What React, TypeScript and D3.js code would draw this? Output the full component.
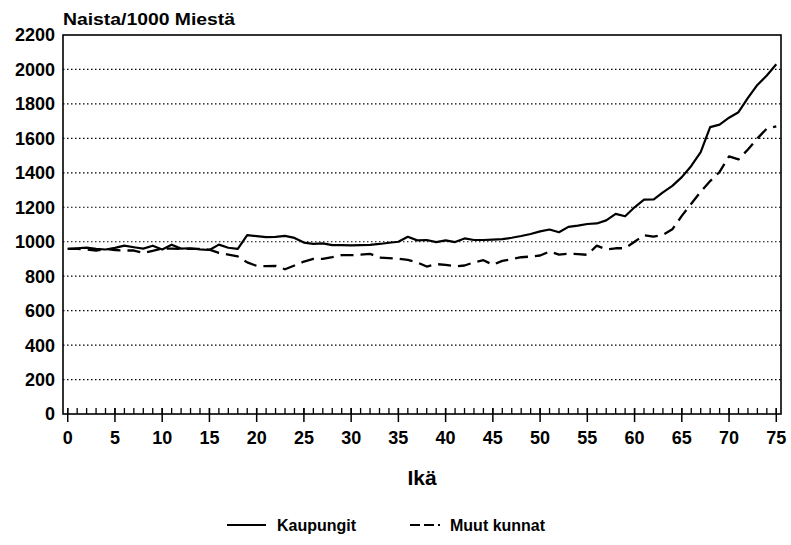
import React from "react";
import * as d3 from "d3";

const ages: number[] = d3.range(0, 76);

const kaupungit: number[] = [
  958, 962, 966, 958, 955, 964, 977, 968, 960, 977,
  955, 983, 960, 962, 956, 952, 983, 965, 958, 1038,
  1032, 1027, 1028, 1034, 1022, 995, 988, 990, 980, 980,
  979, 980, 982, 987, 994, 1000, 1029, 1008, 1010, 998,
  1008, 998, 1019, 1010, 1010, 1012, 1015, 1023, 1033, 1045,
  1060, 1071, 1055, 1086, 1093, 1103, 1106, 1124, 1162, 1148,
  1200, 1244, 1245, 1286, 1324, 1375, 1440, 1520, 1665, 1680,
  1720, 1752, 1835, 1910, 1965, 2030,
];

const muutKunnat: number[] = [
  958, 958, 955, 949, 958, 952, 949, 949, 935, 947,
  960, 960, 958, 958, 958, 954, 935, 925, 915, 880,
  860, 858, 860, 840, 862, 885, 900, 900, 910, 922,
  922, 925, 930, 908, 905, 902, 895, 880, 856, 870,
  866, 857, 862, 880, 893, 866, 889, 899, 910, 914,
  920, 943, 925, 930, 928, 924, 977, 955, 962, 962,
  1000, 1038, 1030, 1040, 1072, 1150, 1220, 1290, 1352, 1405,
  1495, 1478, 1535, 1600, 1657, 1670,
];

const yTicks: number[] = d3.range(0, 2201, 200);
const xMajorTicks: number[] = d3.range(0, 76, 5);

const yTitle = "Naista/1000 Miestä";
const xTitle = "Ikä";
const seriesNames = ["Kaupungit", "Muut kunnat"];

const FONT = "'Liberation Sans', Arial, Helvetica, sans-serif";

export default function App() {
  const W = 791;
  const H = 545;
  const left = 63;
  const right = 781;
  const top = 35;
  const bottom = 414;

  const x = d3.scaleLinear().domain([-0.5, 75.5]).range([left, right]);
  const y = d3.scaleLinear().domain([0, 2200]).range([bottom, top]);

  const line = d3
    .line<number>()
    .x((_, i) => x(ages[i]))
    .y((d) => y(d));

  return (
    <svg
      width={W}
      height={H}
      style={{ position: "absolute", left: 0, top: 0, background: "#fff" }}
      fontFamily={FONT}
    >
      <rect x={0} y={0} width={W} height={H} fill="#fff" />
      {/* gridlines */}
      {yTicks.slice(1, -1).map((t) => (
        <line
          key={"g" + t}
          x1={left}
          x2={right}
          y1={y(t)}
          y2={y(t)}
          stroke="#000"
          strokeWidth={1.2}
          strokeDasharray="1.5,2.5"
        />
      ))}
      {/* frame */}
      <rect
        x={left}
        y={top}
        width={right - left}
        height={bottom - top}
        fill="none"
        stroke="#000"
        strokeWidth={1.6}
      />
      {/* minor ticks */}
      {ages.map((a) => (
        <line
          key={"m" + a}
          x1={x(a)}
          x2={x(a)}
          y1={bottom}
          y2={bottom - 6}
          stroke="#000"
          strokeWidth={1.3}
        />
      ))}
      {/* major ticks */}
      {xMajorTicks.map((a) => (
        <line
          key={"M" + a}
          x1={x(a)}
          x2={x(a)}
          y1={bottom - 6}
          y2={bottom + 8}
          stroke="#000"
          strokeWidth={1.5}
        />
      ))}
      {/* y tick labels */}
      {yTicks.map((t) => (
        <text
          key={"yl" + t}
          x={55}
          y={y(t)}
          dy="0.36em"
          textAnchor="end"
          fontSize={18}
          fontWeight="bold"
        >
          {t}
        </text>
      ))}
      {/* x tick labels */}
      {xMajorTicks.map((a) => (
        <text
          key={"xl" + a}
          x={x(a)}
          y={444}
          textAnchor="middle"
          fontSize={18}
          fontWeight="bold"
        >
          {a}
        </text>
      ))}
      {/* titles */}
      <text x={63} y={25} fontSize={16} fontWeight="bold" textLength={172} lengthAdjust="spacingAndGlyphs">
        {yTitle}
      </text>
      <text x={(left + right) / 2} y={485} textAnchor="middle" fontSize={21} fontWeight="bold">
        {xTitle}
      </text>
      {/* series */}
      <path d={line(kaupungit) || ""} fill="none" stroke="#000" strokeWidth={2.2} strokeLinejoin="round" />
      <path
        d={line(muutKunnat) || ""}
        fill="none"
        stroke="#000"
        strokeWidth={2.3}
        strokeDasharray="13,7"
        strokeLinejoin="round"
      />
      {/* legend */}
      <line x1={227} x2={266} y1={525} y2={525} stroke="#000" strokeWidth={1.8} />
      <text x={277} y={531} fontSize={16} fontWeight="bold">
        {seriesNames[0]}
      </text>
      <line x1={410} x2={440} y1={525} y2={525} stroke="#000" strokeWidth={1.8} strokeDasharray="10,4,10,4,2,4" />
      <text x={450} y={531} fontSize={16} fontWeight="bold">
        {seriesNames[1]}
      </text>
    </svg>
  );
}
